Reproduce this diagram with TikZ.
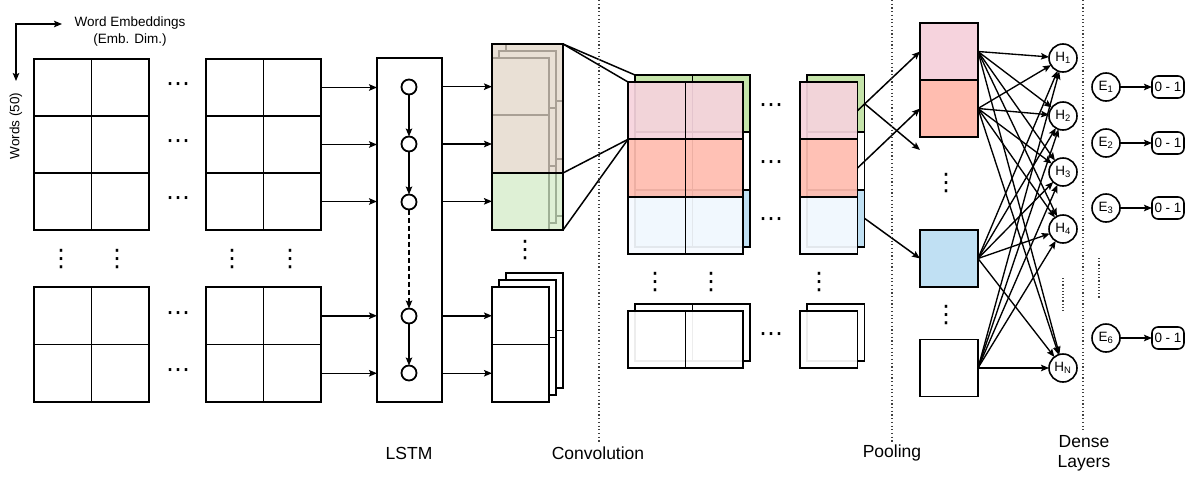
\documentclass[tikz,border=0pt]{standalone}
\usepackage{fontspec}
\setmainfont{Liberation Sans}
\newfontfamily\dejavu{DejaVu Sans}
\usetikzlibrary{arrows.meta,calc}
\definecolor{brownov}{RGB}{226,214,200}
\definecolor{greenov}{RGB}{212,235,199}
\definecolor{cgreen}{RGB}{197,228,170}
\definecolor{cblue}{RGB}{192,224,243}
\definecolor{cpink}{RGB}{246,211,221}
\definecolor{csalmon}{RGB}{255,189,176}
\definecolor{clight}{RGB}{245,250,255}
\begin{document}
\begin{tikzpicture}[x=1pt,y=-1pt,
  every node/.style={inner sep=0pt,outer sep=0pt},
  ln/.style={line width=1.8pt},
  cell/.style={draw,line width=1.8pt,fill=white},
  arr/.style={line width=1.5pt,-{Stealth[length=8pt,width=6.5pt,inset=1.5pt]}},
  dbl/.style={line width=1.5pt,{Stealth[length=8pt,width=6.5pt,inset=1.5pt]}-{Stealth[length=8pt,width=6.5pt,inset=1.5pt]}},
  hd/.style={font=\dejavu\fontsize{24}{24}\selectfont},
  sepline/.style={line width=1.2pt,dash pattern=on 1.2pt off 2.5pt,black!75},
  lbl/.style={font=\fontsize{17.5}{20}\selectfont,align=center},
  small/.style={font=\fontsize{13.5}{17}\selectfont,align=center},
  neuron/.style={circle,draw,line width=1.6pt,fill=white,minimum size=28pt,font=\fontsize{13.5}{13.5}\selectfont},
  outbox/.style={draw,line width=1.6pt,rounded corners=6pt,minimum width=32pt,minimum height=22pt,font=\fontsize{13.5}{13.5}\selectfont}]
\useasboundingbox (0,0) rectangle (1195,477);

% ---------- axis labels ----------
\node[small] (emb) at (130,32) {Word Embeddings\\(Emb. Dim.)};
\node[small,rotate=90] (words) at (16,126) {Words (50)};
\coordinate (ax1) at (62,24);
\coordinate (axo) at (16,24);
\coordinate (ax2) at (16,81);
\draw[dbl] (ax1) -- (axo) -- (ax2);

% ---------- input grids ----------
\foreach \g/\x in {A/34,B/206} {
  \foreach \c in {0,1} {
    \foreach \r in {0,1,2}
      \node[cell,minimum width=57.5pt,minimum height=57pt] (\g t\c\r) at (\x+28.75+57.5*\c,87.5+57*\r) {};
    \foreach \r in {0,1}
      \node[cell,minimum width=57.5pt,minimum height=57.5pt] (\g b\c\r) at (\x+28.75+57.5*\c,315.75+57.5*\r) {};
  }
}
\foreach \y/\n in {87/1,144/2,201/3,316/4,373/5}
  \node[hd] (hdA\n) at (178,\y) {⋯};
\foreach \x/\n in {61/1,117/2,232/3,290/4}
  \node[hd] (vdA\n) at (\x,259) {⋮};

% ---------- LSTM ----------
\node[draw,ln,minimum width=65pt,minimum height=344pt] (lstm) at (409.5,230) {};
\foreach \i/\y in {1/87,2/144,3/202,4/316,5/373}
  \node[circle,draw,ln,fill=white,minimum size=15pt] (c\i) at (409,\y) {};
\draw[arr] (c1) -- (c2);
\draw[arr] (c2) -- (c3);
\draw[arr,dash pattern=on 5pt off 3pt] (c3) -- (c4);
\draw[arr] (c4) -- (c5);
\foreach \r in {0,1,2} \draw[arr] (Bt1\r.east) -- (lstm.west |- Bt1\r.east);
\foreach \r in {0,1} \draw[arr] (Bb1\r.east) -- (lstm.west |- Bb1\r.east);

% ---------- LSTM feature stacks ----------
\foreach \k/\dx in {k/14,m/7,f/0} {
  \foreach \r in {0,1,2}
    \node[cell,minimum width=57pt,minimum height=57.33pt] (S\k\r) at (520.5+\dx,86.67-\dx+57.33*\r) {};
  \foreach \r in {0,1}
    \node[cell,minimum width=57pt,minimum height=57.5pt] (T\k\r) at (520.5+\dx,315.75-\dx+57.5*\r) {};
}
\node[draw,ln,fill=brownov,fill opacity=0.75,minimum width=71pt,minimum height=129pt] (ov1) at (527.5,108.5) {};
\node[draw,ln,fill=greenov,fill opacity=0.75,minimum width=71pt,minimum height=57pt] (ov2) at (527.5,201.5) {};
\node[hd] (vdS) at (525,250) {⋮};
\foreach \r in {0,1,2} \draw[arr] (lstm.east |- Sf\r.west) -- (Sf\r.west);
\foreach \r in {0,1} \draw[arr] (lstm.east |- Tf\r.west) -- (Tf\r.west);

% ---------- convolution ----------
\foreach \c/\x in {0/628,1/685.5,2/800} {
  \foreach \r/\cb in {0/cgreen,1/white,2/cblue}
    \node[cell,fill=\cb,minimum width=57.5pt,minimum height=57.33pt] (Cb\c\r) at (\x+35.75,103.67+57.33*\r) {};
  \node[cell,minimum width=57.5pt,minimum height=57pt] (Db\c) at (\x+35.75,332.5) {};
}
\foreach \c/\x in {0/628,1/685.5,2/800} {
  \foreach \r/\cf in {0/cpink,1/csalmon,2/clight}
    \node[cell,fill=\cf,fill opacity=0.93,minimum width=57.5pt,minimum height=57.33pt] (Cf\c\r) at (\x+28.75,110.67+57.33*\r) {};
  \node[cell,fill opacity=0.93,minimum width=57.5pt,minimum height=57pt] (Df\c) at (\x+28.75,339.5) {};
}
\foreach \y/\n in {108/1,165/2,222/3,337/4}
  \node[hd] (hdC\n) at (771,\y) {⋯};
\foreach \x/\n in {655/1,711/2,819/3}
  \node[hd] (vdC\n) at (\x,282) {⋮};
\draw[line width=1.5pt] (ov1.north east) -- (Cb00.north west);
\draw[line width=1.5pt] (ov1.north east) -- (Cf00.north west);
\draw[line width=1.5pt] (ov1.south east) -- (Cf01.north west);
\draw[line width=1.5pt] (ov2.south east) -- (Cf01.north west);

% ---------- pooling ----------
\node[cell,fill=cpink,minimum width=58pt,minimum height=57pt] (P1) at (949,51.5) {};
\node[cell,fill=csalmon,minimum width=58pt,minimum height=57pt] (P2) at (949,108.5) {};
\node[cell,fill=cblue,minimum width=58pt,minimum height=57pt] (P3) at (949,258.5) {};
\node[cell,minimum width=58pt,minimum height=57pt] (P4) at (949,368) {};
\node[hd] (vdP1) at (946,183) {⋮};
\node[hd] (vdP2) at (946,315) {⋮};
\coordinate (pgap) at (920,150);
\draw[arr] (Cf20.east) -- (P1.west);
\draw[arr] (Cb20.east) -- (pgap);
\draw[arr] (Cf21.east) -- (P2.west);
\draw[arr] (Cb22.east) -- (P3.west);

% ---------- dense ----------
\foreach \i/\y/\t in {1/58/1,2/116/2,3/172/3,4/229/4,5/368/N}
  \node[neuron] (H\i) at (1063,\y) {H\textsubscript{\t}};
\foreach \p in {1,2,3,4}
  \foreach \h in {1,2,3,4,5}
    \draw[arr,line width=1.35pt] (P\p.east) -- (H\h);
\draw[line width=1.2pt,dash pattern=on 1.2pt off 2pt,black!75] (1063,278) -- (1063,313);
\foreach \i/\y/\t in {1/87/1,2/143/2,3/208/3,6/338/6} {
  \node[neuron] (E\i) at (1106,\y) {E\textsubscript{\t}};
  \node[outbox] (O\i) at (1168,\y) {0 - 1};
  \draw[arr] (E\i) -- (O\i);
}
\draw[line width=1.2pt,dash pattern=on 1.2pt off 2pt,black!75] (1099,258) -- (1099,298);

% ---------- separators ----------
\draw[sepline] (599,0) -- (599,443);
\draw[sepline] (892,0) -- (892,443);
\draw[sepline] (1083,0) -- (1083,432);

% ---------- labels ----------
\node[lbl] (lLSTM) at (409,453) {LSTM};
\node[lbl] (lConv) at (598,453) {Convolution};
\node[lbl] (lPool) at (892,453) {Pooling};
\node[lbl] (lDense) at (1084,453) {Dense\\Layers};
\end{tikzpicture}
\end{document}
